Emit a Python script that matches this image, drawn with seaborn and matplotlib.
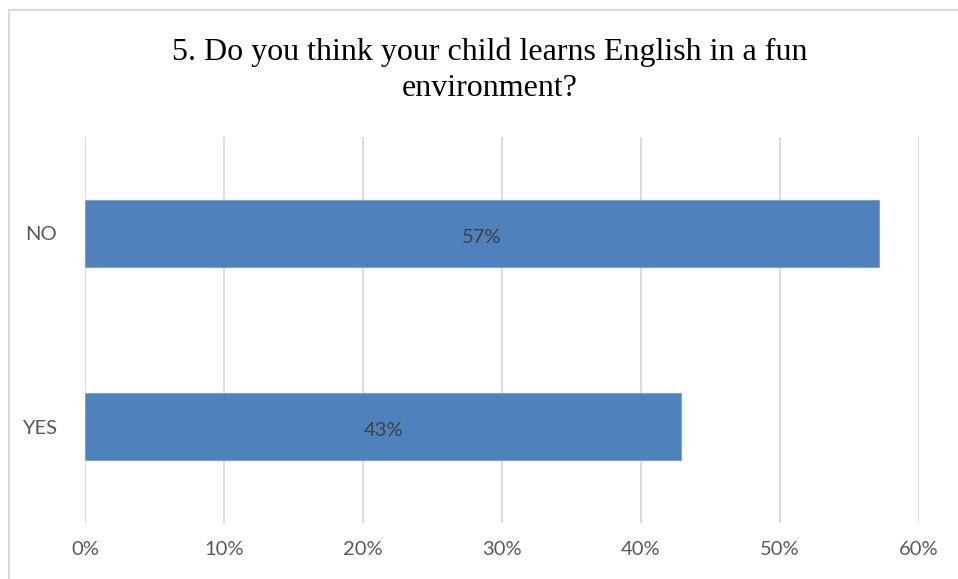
import matplotlib
matplotlib.use("Agg")
import matplotlib.pyplot as plt
import matplotlib.patches as mpatches
from matplotlib.ticker import MultipleLocator, PercentFormatter
import pandas as pd
import seaborn as sns

# Survey answers and their shares (percent)
answers = ["NO", "YES"]
shares = [57.1, 42.9]
value_labels = ["57%", "43%"]
title = "5. Do you think your child learns English in a fun\nenvironment?"

df = pd.DataFrame({"answer": answers, "share": shares})

sns.set_theme(style="white")
plt.rcParams["font.family"] = ["Lato", "DejaVu Sans"]

fig = plt.figure(figsize=(9.58, 5.79), dpi=100)
ax = fig.add_axes([85 / 958, 1 - 523 / 579, (919 - 85) / 958, (523 - 137) / 579])

bar_color = "#4F81BD"
sns.barplot(data=df, y="answer", x="share", orient="h", order=answers,
            color=bar_color, saturation=1, width=0.35,
            edgecolor="#7EA1CF", linewidth=0.8, ax=ax)

for patch, lab in zip(ax.patches, value_labels):
    cx = patch.get_x() + patch.get_width() / 2
    cy = patch.get_y() + patch.get_height() / 2
    ax.text(cx, cy + 0.02, lab, ha="center", va="center", fontsize=14.5,
            color="#404040")

ax.set_xlim(0, 60)
ax.set_ylim(1.5, -0.5)
ax.xaxis.set_major_locator(MultipleLocator(10))
ax.xaxis.set_major_formatter(PercentFormatter(decimals=0))
ax.grid(axis="x", color="#D9D9D9", linewidth=1.3)
ax.grid(axis="y", visible=False)
ax.set_axisbelow(True)
for s in ax.spines.values():
    s.set_visible(False)
ax.set_xlabel("")
ax.set_ylabel("")
ax.tick_params(axis="x", length=0, pad=13, labelsize=14.5, labelcolor="#595959")
ax.tick_params(axis="y", length=0, pad=20, labelsize=14.5, labelcolor="#595959")

fig.text(0.511, 1 - 70 / 579, title, ha="center", va="center",
         fontsize=23, family=["Liberation Serif", "DejaVu Serif"],
         color="#000000", linespacing=1.33)

# Outer chart frame
frame = mpatches.Rectangle((9 / 958, -0.05), 1.0, 1 - 10 / 579 + 0.05,
                           transform=fig.transFigure, fill=False,
                           edgecolor="#D9D9D9", linewidth=1.5)
fig.patches.append(frame)

fig.savefig("out.png", dpi=100, facecolor="white")
